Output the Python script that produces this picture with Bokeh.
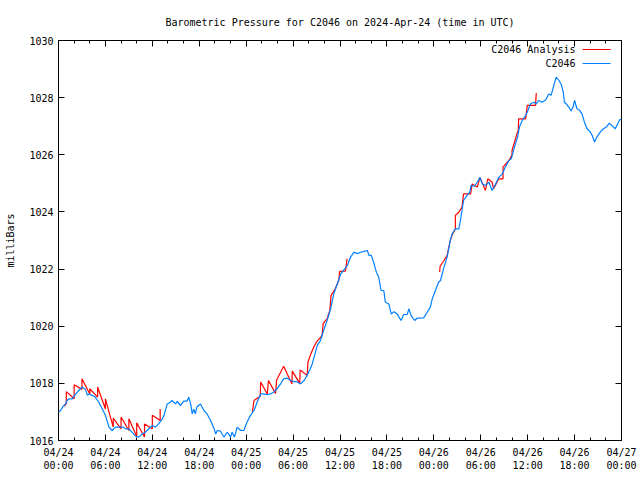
from bokeh.plotting import figure
from bokeh.models import FixedTicker, LinearAxis, Range1d, Label
from bokeh.embed import file_html
from bokeh.resources import INLINE

TITLE = "Barometric Pressure for C2046 on 2024-Apr-24 (time in UTC)"
Y_LABEL = "milliBars"
SERIES_ANALYSIS = "C2046 Analysis"
SERIES_OBS = "C2046"

x_tick_hours = [0, 6, 12, 18, 24, 30, 36, 42, 48, 54, 60, 66, 72]
x_tick_labels = ["04/24\n00:00", "04/24\n06:00", "04/24\n12:00", "04/24\n18:00",
                 "04/25\n00:00", "04/25\n06:00", "04/25\n12:00", "04/25\n18:00",
                 "04/26\n00:00", "04/26\n06:00", "04/26\n12:00", "04/26\n18:00",
                 "04/27\n00:00"]
x_minor_hours = list(range(0, 73, 2))
y_ticks = [1016, 1018, 1020, 1022, 1024, 1026, 1028, 1030]

# observed station pressure (hours since 04/24 00:00 UTC, mb)
obs_hours = [0.0, 0.26, 0.6, 0.9, 1.1, 1.3, 1.75, 2.2, 2.6, 3.0, 3.45, 3.7, 3.9, 4.3, 4.7,
             5.15, 5.6, 6.0, 6.45, 6.85, 7.3, 7.7, 8.2, 8.6, 9.0, 9.4, 9.85, 10.3, 10.7,
             11.1, 11.55, 12.0, 12.4, 12.8, 13.25, 13.5, 13.9, 14.3, 14.5, 14.95, 15.2,
             15.6, 16.0, 16.45, 16.65, 16.9, 17.1, 17.3, 17.5, 17.7, 18.15, 18.6, 19.0,
             19.45, 19.9, 20.1, 20.3, 20.7, 21.15, 21.6, 22.0, 22.2, 22.5, 22.85, 23.3,
             23.7, 24.1, 24.55, 25.0, 25.4, 25.85, 26.25, 26.7, 27.1, 27.5, 27.95, 28.4,
             28.8, 29.25, 29.7, 30.1, 30.5, 30.95, 31.4, 31.8, 32.2, 32.45, 32.75, 33.1,
             33.5, 33.9, 34.35, 34.8, 35.2, 35.65, 36.1, 36.5, 36.95, 37.35, 37.8, 38.2,
             38.65, 39.05, 39.5, 39.7, 40.0, 40.3, 40.65, 40.95, 41.25, 41.6, 41.8, 42.25,
             42.55, 42.9, 43.3, 43.8, 44.15, 44.6, 44.8, 45.1, 45.55, 45.85, 46.7, 47.15,
             47.55, 47.8, 48.2, 48.6, 48.85, 49.3, 49.7, 49.9, 50.1, 50.35, 50.75, 51.2,
             51.4, 51.6, 51.8, 52.25, 52.6, 52.75, 53.2, 53.55, 53.9, 54.2, 54.6, 55.05,
             55.45, 55.9, 56.3, 56.75, 57.15, 57.6, 57.9, 58.25, 58.7, 58.95, 59.3, 59.75,
             59.95, 60.35, 60.8, 61.1, 61.4, 61.85, 62.3, 62.7, 63.0, 63.35, 63.65, 64.0,
             64.3, 64.55, 64.7, 64.95, 65.25, 65.55, 65.8, 66.0, 66.3, 66.6, 66.95, 67.25,
             67.6, 68.0, 68.25, 68.55, 68.85, 69.3, 69.7, 70.05, 70.45, 70.75, 71.2, 71.75,
             72.0]
obs_mb = [1017.0, 1017.05, 1017.2, 1017.28, 1017.4, 1017.46, 1017.46, 1017.63, 1017.75,
          1017.87, 1017.79, 1017.58, 1017.63, 1017.58, 1017.52, 1017.34, 1017.1, 1016.88,
          1016.47, 1016.35, 1016.47, 1016.47, 1016.47, 1016.41, 1016.41, 1016.29, 1016.15,
          1016.12, 1016.23, 1016.29, 1016.41, 1016.52, 1016.47, 1016.58, 1016.75, 1016.88,
          1017.28, 1017.34, 1017.4, 1017.28, 1017.37, 1017.22, 1017.38, 1017.38, 1017.52,
          1017.28, 1016.93, 1017.1, 1016.93, 1017.17, 1017.28, 1017.05, 1016.93, 1016.7,
          1016.41, 1016.23, 1016.35, 1016.33, 1016.12, 1016.29, 1016.12, 1016.29, 1016.12,
          1016.47, 1016.35, 1016.35, 1016.64, 1016.88, 1017.05, 1017.34, 1017.63, 1017.63,
          1017.6, 1017.63, 1017.69, 1017.81, 1017.98, 1018.16, 1018.18, 1018.1, 1018.06,
          1018.06, 1017.98, 1018.1, 1018.28, 1018.51, 1018.68, 1018.98, 1019.33, 1019.5,
          1019.85, 1020.2, 1020.61, 1021.13, 1021.48, 1021.83, 1021.97, 1022.13, 1022.42,
          1022.59, 1022.54, 1022.59, 1022.62, 1022.65, 1022.48, 1022.48, 1022.24, 1021.89,
          1021.72, 1021.25, 1021.25, 1020.84, 1020.78, 1020.43, 1020.51, 1020.43, 1020.2,
          1020.41, 1020.41, 1020.61, 1020.37, 1020.2, 1020.28, 1020.29, 1020.49, 1020.67,
          1020.96, 1021.25, 1021.54, 1021.6, 1022.07, 1022.42, 1022.71, 1023.0, 1023.23,
          1023.41, 1023.41, 1023.7, 1024.05, 1024.4, 1024.58, 1024.69, 1024.93, 1024.9,
          1025.04, 1025.21, 1024.98, 1024.93, 1025.04, 1024.75, 1024.98, 1025.21, 1025.33,
          1025.57, 1025.8, 1025.86, 1026.21, 1026.62, 1026.97, 1027.2, 1027.38, 1027.49,
          1027.78, 1027.84, 1027.78, 1027.9, 1027.84, 1027.92, 1028.13, 1028.08, 1028.43,
          1028.72, 1028.6, 1028.46, 1028.19, 1027.84, 1027.78, 1027.67, 1027.53, 1027.67,
          1027.9, 1027.61, 1027.57, 1027.43, 1027.15, 1026.91, 1026.8, 1026.68, 1026.45,
          1026.62, 1026.8, 1026.91, 1026.97, 1027.11, 1027.03, 1026.91, 1027.22, 1027.25]

# analysis, three separate runs
ana1_hours = [0.75, 1.0, 1.0, 2.0, 2.0, 3.0, 3.0, 4.0, 4.0, 5.0, 5.0, 6.0, 6.0, 7.0, 7.0,
              8.0, 8.0, 9.0, 9.0, 10.0, 10.0, 11.0, 11.0, 12.0, 12.0, 13.0, 13.0]
ana1_mb = [1017.2, 1017.3, 1017.71, 1017.46, 1017.95, 1017.79, 1018.16, 1017.63, 1017.81,
           1017.52, 1017.87, 1017.1, 1017.46, 1016.47, 1016.78, 1016.41, 1016.82, 1016.35,
           1016.76, 1016.14, 1016.62, 1016.12, 1016.58, 1016.41, 1016.88, 1016.7, 1017.1]
ana2_hours = [24.8, 25.0, 25.8, 25.85, 26.7, 26.85, 27.75, 27.9, 28.8, 29.85, 29.9, 30.85,
              30.9, 31.8, 31.9, 32.2, 32.65, 33.0, 33.7, 33.85, 34.35, 34.7, 34.85, 35.4,
              35.85, 35.95, 36.7, 36.8, 36.9]
ana2_mb = [1017.0, 1017.4, 1017.55, 1018.05, 1017.63, 1018.1, 1017.65, 1018.12, 1018.6,
           1017.98, 1018.43, 1018.0, 1018.47, 1018.28, 1018.74, 1018.98, 1019.27, 1019.45,
           1019.67, 1020.1, 1020.26, 1020.55, 1021.07, 1021.31, 1021.62, 1021.92, 1021.93,
           1022.13, 1022.36]
ana3_hours = [48.75, 48.8, 49.3, 49.7, 50.1, 50.35, 50.75, 50.75, 51.2, 51.6, 51.8, 52.7,
              52.9, 53.55, 53.9, 54.6, 54.9, 55.45, 55.65, 56.3, 56.85, 56.85, 57.6, 58.0,
              58.0, 58.7, 58.8, 58.85, 59.75, 59.95, 61.0, 61.1]
ana3_mb = [1021.9, 1022.1, 1022.3, 1022.48, 1023.0, 1023.2, 1023.4, 1023.88, 1023.99,
           1024.17, 1024.63, 1024.63, 1024.98, 1024.87, 1025.21, 1024.75, 1025.16, 1025.04,
           1024.81, 1025.16, 1025.16, 1025.57, 1025.8, 1026.0, 1026.15, 1026.8, 1026.85,
           1027.26, 1027.26, 1027.73, 1027.73, 1028.16]

RED = "#ff0000"
BLUE = "#0080ff"
FONT = "DejaVu Sans Mono"
FS = "10px"

X0, X1 = 0, 72
Y0, Y1 = 1016, 1030
L, R, T, B = 58, 19, 40, 40
FW, FH = 640 - L - R, 480 - T - B


def hx(px):
    return X0 + (px - L) * (X1 - X0) / FW


def my(py):
    return Y0 + (T + FH - py) * (Y1 - Y0) / FH


p = figure(frame_width=FW, frame_height=FH, output_backend="svg", toolbar_location=None,
           x_range=Range1d(X0, X1), y_range=Range1d(Y0, Y1),
           min_border_left=L, min_border_right=R, min_border_top=T, min_border_bottom=B,
           x_axis_location=None, y_axis_location=None)
p.title.text = TITLE
p.title.text_font = FONT
p.title.text_font_size = FS
p.title.text_font_style = "normal"
p.title.text_color = "black"
p.title.align = "center"
p.title.offset = 0
p.title.standoff = 25
p.xgrid.visible = False
p.ygrid.visible = False
p.outline_line_color = "black"
p.outline_line_width = 1
p.outline_line_alpha = 1.0
p.background_fill_color = "white"
p.border_fill_color = "white"

labels = {h: s for h, s in zip(x_tick_hours, x_tick_labels)}


def make_xaxis(show):
    ax = LinearAxis(ticker=FixedTicker(ticks=x_tick_hours, minor_ticks=x_minor_hours))
    ax.axis_line_color = None
    ax.major_tick_in = 6
    ax.major_tick_out = 0
    ax.minor_tick_in = 3
    ax.minor_tick_out = 0
    ax.major_tick_line_color = "black"
    ax.minor_tick_line_color = "black"
    if show:
        ax.major_label_overrides = labels
        ax.major_label_text_font = FONT
        ax.major_label_text_font_size = FS
        ax.major_label_text_color = "black"
        ax.major_label_standoff = 6
    else:
        ax.major_label_text_color = None
        ax.major_label_text_font_size = "1px"
        ax.major_label_standoff = 0
    return ax


def make_yaxis(show):
    ax = LinearAxis(ticker=FixedTicker(ticks=y_ticks, minor_ticks=[]))
    ax.axis_line_color = None
    ax.major_tick_in = 6
    ax.major_tick_out = 0
    ax.minor_tick_in = 0
    ax.minor_tick_out = 0
    ax.major_tick_line_color = "black"
    if show:
        ax.major_label_text_font = FONT
        ax.major_label_text_font_size = FS
        ax.major_label_text_color = "black"
        ax.major_label_standoff = 5
        ax.axis_label = Y_LABEL
        ax.axis_label_text_font = FONT
        ax.axis_label_text_font_size = FS
        ax.axis_label_text_font_style = "normal"
        ax.axis_label_text_color = "black"
        ax.axis_label_standoff = 10
    else:
        ax.major_label_text_color = None
        ax.major_label_text_font_size = "1px"
        ax.major_label_standoff = 0
    return ax


p.add_layout(make_xaxis(True), "below")
p.add_layout(make_xaxis(False), "above")
p.add_layout(make_yaxis(True), "left")
p.add_layout(make_yaxis(False), "right")

for hs, ms in [(ana1_hours, ana1_mb), (ana2_hours, ana2_mb), (ana3_hours, ana3_mb)]:
    p.line(hs, ms, line_color=RED, line_width=1.2)
p.line(obs_hours, obs_mb, line_color=BLUE, line_width=1.2)

# gnuplot-style key: label text, then sample line
for row, (name, col) in enumerate([(SERIES_ANALYSIS, RED), (SERIES_OBS, BLUE)]):
    ypx = 49 + row * 14
    p.add_layout(Label(x=hx(575), y=my(ypx), text=name, text_align="right",
                       text_baseline="middle", text_font=FONT, text_font_size=FS,
                       text_color="black"))
    p.segment(x0=[hx(582)], y0=[my(ypx)], x1=[hx(610)], y1=[my(ypx)],
              line_color=col, line_width=1.2)

open("out.html", "w").write(file_html(p, INLINE))
